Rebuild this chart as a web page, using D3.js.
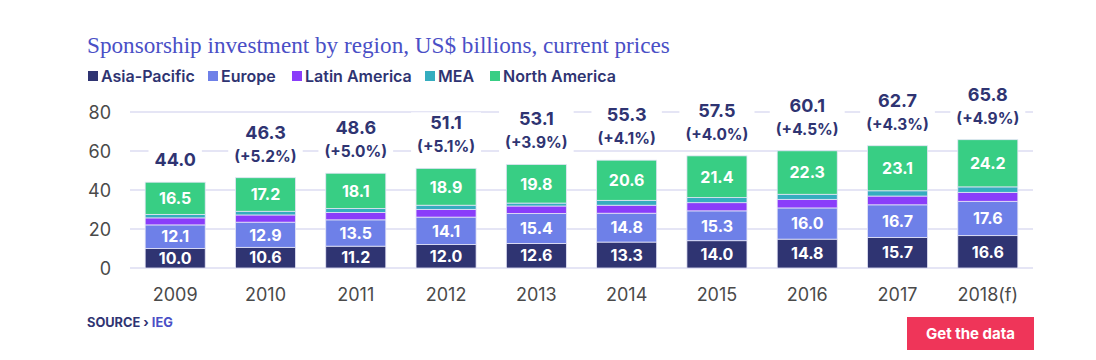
<!DOCTYPE html>
<html>
<head>
<meta charset="utf-8">
<script src="https://cdn.jsdelivr.net/npm/d3@7"></script>
<style>
body { margin: 0; background: #fff; }
text { font-family: Inter, "Noto Sans", sans-serif; }
</style>
</head>
<body>
<svg id="main" width="1096" height="360"></svg>
<script>
var years = ["2009", "2010", "2011", "2012", "2013", "2014", "2015", "2016", "2017", "2018(f)"];
var asiaPacific = [10.0, 10.6, 11.2, 12.0, 12.6, 13.3, 14.0, 14.8, 15.7, 16.6];
var europe = [12.1, 12.9, 13.5, 14.1, 15.4, 14.8, 15.3, 16.0, 16.7, 17.6];
var latinAmerica = [3.6, 3.7, 3.8, 3.9, 3.8, 4.1, 4.2, 4.4, 4.5, 4.6];
var mea = [1.8, 1.9, 2.0, 2.2, 1.5, 2.5, 2.6, 2.6, 2.7, 2.8];
var northAmerica = [16.5, 17.2, 18.1, 18.9, 19.8, 20.6, 21.4, 22.3, 23.1, 24.2];
var totals = [44.0, 46.3, 48.6, 51.1, 53.1, 55.3, 57.5, 60.1, 62.7, 65.8];
var growth = [null, "+5.2%", "+5.0%", "+5.1%", "+3.9%", "+4.1%", "+4.0%", "+4.5%", "+4.3%", "+4.9%"];
var seriesNames = ["Asia-Pacific", "Europe", "Latin America", "MEA", "North America"];
var seriesColors = ["#2f3472", "#6e80e8", "#8a3dfa", "#35adbf", "#38ce84"];
var labelled = [true, true, false, false, true];
var yTicks = [0, 20, 40, 60, 80];

var rows = years.map(function(y, i) {
	return {year: y, "Asia-Pacific": asiaPacific[i], "Europe": europe[i], "Latin America": latinAmerica[i], "MEA": mea[i], "North America": northAmerica[i]};
});

var svg = d3.select("#main");
var x = d3.scaleBand().domain(years).range([130, 1033]).paddingInner(0.335).paddingOuter(0.168);
var y = d3.scaleLinear().domain([0, 80]).range([268, 112]);

// title
svg.append("text").attr("x", 87).attr("y", 53).text("Sponsorship investment by region, US$ billions, current prices")
	.style("font-family", "'Liberation Serif', 'DejaVu Serif', serif").attr("font-size", 23.2).attr("fill", "#4a4fc6");

// legend
var legendX = [88, 208, 292, 425, 490];
var leg = svg.append("g");
seriesNames.forEach(function(n, i) {
	leg.append("rect").attr("x", legendX[i]).attr("y", 71).attr("width", 10).attr("height", 10).attr("fill", seriesColors[i]);
	leg.append("text").attr("x", legendX[i] + 13).attr("y", 81.5).text(n).attr("font-size", 16).attr("font-weight", 600).attr("fill", "#2f3472");
});

// grid
svg.append("g").selectAll("line").data(yTicks).join("line")
	.attr("x1", 130).attr("x2", 1033).attr("y1", function(d) { return y(d); }).attr("y2", function(d) { return y(d); })
	.attr("stroke", "#dcdcf2").attr("stroke-width", 1.5);

var yAxis = svg.append("g").attr("transform", "translate(111,0)").call(d3.axisLeft(y).tickValues(yTicks).tickSize(0).tickPadding(0));
yAxis.select(".domain").remove();
yAxis.selectAll("text").attr("font-size", 18).attr("fill", "#4a4a4a").style("font-family", "Inter, sans-serif").attr("dy", "0.35em");

var xAxis = svg.append("g").attr("transform", "translate(0,285)").call(d3.axisBottom(x).tickSize(0).tickPadding(0));
xAxis.select(".domain").remove();
xAxis.selectAll("text").attr("font-size", 18).attr("fill", "#4a4a4a").style("font-family", "Inter, sans-serif").attr("dy", "0.9em");

// bars
var stack = d3.stack().keys(seriesNames)(rows);
var layers = svg.append("g").selectAll("g").data(stack).join("g").attr("fill", function(d, i) { return seriesColors[i]; });
layers.selectAll("rect").data(function(d) { return d; }).join("rect")
	.attr("x", function(d) { return x(d.data.year); })
	.attr("width", x.bandwidth())
	.attr("y", function(d) { return y(d[1]); })
	.attr("height", function(d) { return y(d[0]) - y(d[1]); })
	.attr("stroke", "#e4e4f6").attr("stroke-width", 0.8);

layers.filter(function(d, i) { return labelled[i]; }).selectAll("text").data(function(d) { return d; }).join("text")
	.attr("x", function(d) { return x(d.data.year) + x.bandwidth() / 2; })
	.attr("y", function(d) { return (y(d[0]) + y(d[1])) / 2; })
	.attr("dy", "0.36em").attr("text-anchor", "middle")
	.attr("fill", "#fff").attr("font-size", 16).attr("font-weight", 700)
	.text(function(d) { return (d[1] - d[0]).toFixed(1); });

// totals
var tot = svg.append("g");
years.forEach(function(yr, i) {
	var cx = x(yr) + x.bandwidth() / 2;
	var top = y(totals[i]);
	var g = tot.append("g");
	var lines = growth[i] ? [totals[i].toFixed(1), "(" + growth[i] + ")"] : [totals[i].toFixed(1)];
	var bg = g.append("rect").attr("fill", "#fff");
	lines.forEach(function(t, j) {
		var base = top - 16 - (lines.length - 1 - j) * 23;
		g.append("text").attr("x", cx).attr("y", base).attr("text-anchor", "middle")
			.attr("font-size", j == 0 ? 18 : 15.5).attr("font-weight", 700).attr("fill", "#2f3472").text(t);
	});
	var b = g.node().getBBox();
	bg.attr("x", b.x - 6).attr("y", b.y).attr("width", b.width + 12).attr("height", b.height);
});

// source
var src = svg.append("text").attr("x", 87).attr("y", 327).attr("font-size", 12.8).attr("font-weight", 700);
src.append("tspan").attr("fill", "#2f3472").text("SOURCE › ");
src.append("tspan").attr("fill", "#4a4fc6").text("IEG");

// button
svg.append("rect").attr("x", 907).attr("y", 317).attr("width", 127).attr("height", 33).attr("fill", "#ef3559");
svg.append("text").attr("x", 970.5).attr("y", 339).attr("text-anchor", "middle").attr("font-size", 15).attr("font-weight", 700).attr("fill", "#fff").text("Get the data");
</script>
</body>
</html>
